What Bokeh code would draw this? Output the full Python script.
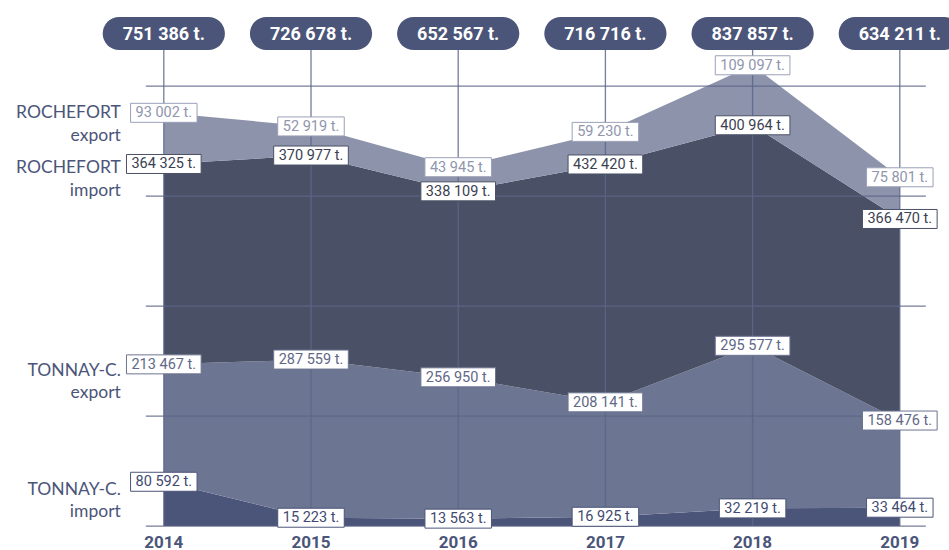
from bokeh.plotting import figure
from bokeh.models import ColumnDataSource
from bokeh.core.properties import value
from bokeh.embed import file_html
from bokeh.resources import INLINE

# ---------------- data ----------------
years = [2014, 2015, 2016, 2017, 2018, 2019]
tonnay_import = [80592, 15223, 13563, 16925, 32219, 33464]
tonnay_export = [213467, 287559, 256950, 208141, 295577, 158476]
rochefort_import = [364325, 370977, 338109, 432420, 400964, 366470]
rochefort_export = [93002, 52919, 43945, 59230, 109097, 75801]
series_titles = [("TONNAY-C.", "import"), ("TONNAY-C.", "export"),
                 ("ROCHEFORT", "import"), ("ROCHEFORT", "export")]
grid_values = [0, 200000, 400000, 600000, 800000]

# ---------------- style / layout ----------------
W, H = 949, 550
PX_PER_YEAR = 147.2
X0_PX = 163.3            # canvas x of first year
T_PER_PX = 800000 / 440  # tonnes per pixel
BASE_PX = 525.6          # canvas y of the zero line
PILL_PX = 33             # canvas y of the pill centres
YEAR_PX = 541.0          # canvas y of the year labels

fill_colors = ["#4b5579", "#6c7592", "#4a5166", "#8c93ab"]
label_text_colors = ["#3f4a70", "#5f6888", "#3b3f52", "#8f96ad"]
label_border_colors = ["#4b5579", "#6c7592", "#4a5166", "#9aa1b8"]
NAVY = "#4b5579"
GRID = "#5c668a"
FONT = "Roboto"
# canvas-y centres of the two lines of each series title
title_centres = [(488.0, 510.0), (368.5, 390.5), (166.0, 188.5), (111.0, 133.5)]

def fmt(v):
    return f"{v:,}".replace(",", " ") + " t."

def ydata(px):
    return (BASE_PX - px) * T_PER_PX

series = [tonnay_import, tonnay_export, rochefort_import, rochefort_export]
names = ["ti", "te", "ri", "re"]
cum = []
run = [0] * len(years)
for s in series:
    run = [a + b for a, b in zip(run, s)]
    cum.append(run)
totals = cum[-1]

src = ColumnDataSource(dict(year=years, **{n: s for n, s in zip(names, series)}))

p = figure(width=W, height=H,
           x_range=(years[0] - X0_PX / PX_PER_YEAR, years[0] + (W - X0_PX) / PX_PER_YEAR),
           y_range=(ydata(H), ydata(0)),
           output_backend="svg", toolbar_location=None,
           x_axis_location=None, y_axis_location=None,
           min_border=0, outline_line_color=None)
p.grid.visible = False

# stacked areas
p.varea_stack(stackers=names, x="year", color=fill_colors, source=src)

# grid lines (drawn over the areas)
gx0 = years[0] - 18 / PX_PER_YEAR
gx1 = years[-1] + 26 / PX_PER_YEAR
p.segment(x0=[gx0] * len(grid_values), y0=grid_values,
          x1=[gx1] * len(grid_values), y1=grid_values,
          line_color=GRID, line_width=1.3, line_alpha=0.85)
pill_y = ydata(PILL_PX)
p.segment(x0=years, y0=[0] * len(years), x1=years, y1=[pill_y] * len(years),
          line_color=GRID, line_width=1.3, line_alpha=0.85)

# value labels
for k, s in enumerate(series):
    p.text(x=years, y=cum[k], text=[fmt(v) for v in s],
           text_align="center", text_baseline="middle",
           text_font=value(FONT), text_font_size="14.5px",
           text_color=label_text_colors[k],
           background_fill_color="white",
           border_line_color=label_border_colors[k], border_line_width=1,
           padding=(5, 1))

# totals (pills)
p.text(x=years, y=[pill_y] * len(years), text=[fmt(v) for v in totals],
       text_align="center", text_baseline="middle",
       text_font=value(FONT), text_font_style="bold", text_font_size="18px",
       text_color="white", background_fill_color=NAVY,
       border_line_color=None, border_radius=17, padding=(20, 6))

# years
p.text(x=years, y=[ydata(YEAR_PX)] * len(years), text=[str(y) for y in years],
       text_align="center", text_baseline="middle",
       text_font=value(FONT), text_font_style="bold", text_font_size="17px",
       text_color=NAVY)

# series titles on the left
for k, (t1, t2) in enumerate(series_titles):
    c1, c2 = title_centres[k]
    for txt, c in ((t1, c1), (t2, c2)):
        p.text(x=[years[0]], y=[ydata(c)], x_offset=-43,
               text=[txt], text_align="right", text_baseline="middle",
               text_font=value("Lato"), text_font_size="17.5px", text_color=NAVY)

open("out.html", "w").write(file_html(p, INLINE))
